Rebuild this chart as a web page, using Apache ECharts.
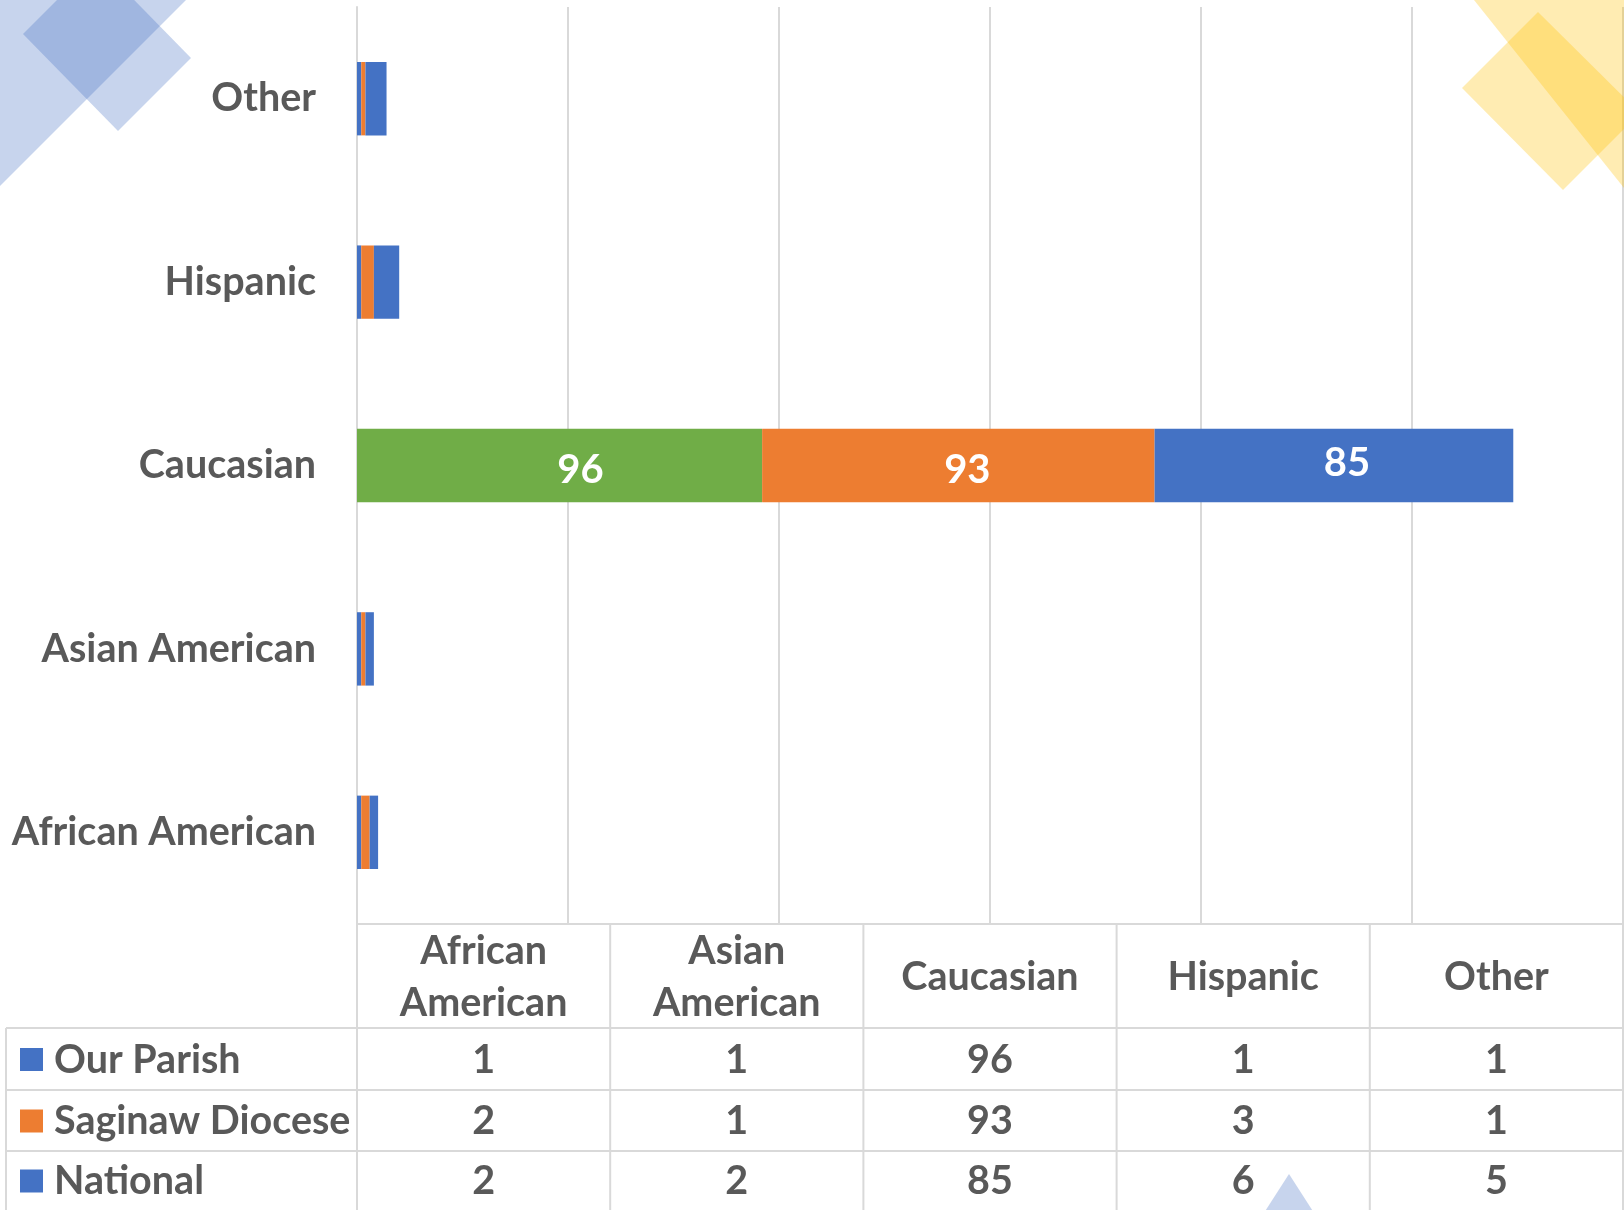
<!DOCTYPE html>
<html>
<head>
<meta charset="utf-8">
<script src="https://cdn.jsdelivr.net/npm/echarts@6/dist/echarts.min.js"></script>
<style>
html,body{margin:0;padding:0;background:#fff;}
#main{width:1624px;height:1210px;}
</style>
</head>
<body>
<div id="main"></div>
<script>
// ---- data ----
const categories = ['African American', 'Asian American', 'Caucasian', 'Hispanic', 'Other'];
const seriesNames = ['Our Parish', 'Saginaw Diocese', 'National'];
const ourParish = [1, 1, 96, 1, 1];
const saginawDiocese = [2, 1, 93, 3, 1];
const national = [2, 2, 85, 6, 5];
const axisMin = 0, axisMax = 300, axisInterval = 50;
const labelledCategory = 'Caucasian';

// ---- styles ----
const FONT = 'Lato';
const TEXT = '#595959';
const LINE = '#D9D9D9';
const seriesColors = ['#4472C4', '#ED7D31', '#4472C4'];
const highlightColor = '#70AD47';
const labelOffsets = [[21, 5], [9, 5], [13, -2]];
const FS = 39.5;

const W = 1624, H = 1210;
const gridL = 357, gridT = 7, gridR = 1, gridB = 286;
const plotB = H - gridB;           // 924
const plotW = W - gridL - gridR;
const colW = plotW / categories.length;
const rowLines = [plotB, 1028, 1090, 1151, H];

const seriesData = [ourParish, saginawDiocese, national];

function buildSeries() {
  return seriesNames.map((name, si) => ({
    name: name,
    type: 'bar',
    stack: 'total',
    barWidth: '40%',
    itemStyle: { color: seriesColors[si] },
    label: { show: false },
    data: seriesData[si].map((v, ci) => {
      const d = { value: v };
      if (categories[ci] === labelledCategory) {
        d.label = {
          show: true, position: 'inside', color: '#fff',
          fontFamily: FONT, fontWeight: 'bold', fontSize: 40,
          offset: labelOffsets[si]
        };
        if (si === 0) d.itemStyle = { color: highlightColor };
      }
      return d;
    })
  }));
}

function txt(text, x, y, opts) {
  return Object.assign({
    type: 'text', z: 50,
    style: {
      text: text, x: x, y: y,
      fill: TEXT, font: 'bold ' + FS + 'px ' + FONT,
      align: 'center', verticalAlign: 'middle',
      textAlign: 'center', textVerticalAlign: 'middle',
      lineHeight: 52
    }
  }, opts || {});
}
function line(x1, y1, x2, y2) {
  return { type: 'line', z: 40, shape: { x1, y1, x2, y2 }, style: { stroke: LINE, lineWidth: 2 } };
}
function poly(points, color) {
  return { type: 'polygon', z: 100, silent: true, shape: { points }, style: { fill: color } };
}

function buildTable() {
  const els = [];
  els.push(line(gridL, rowLines[0], W, rowLines[0]));
  for (let i = 1; i < rowLines.length - 1; i++) els.push(line(6, rowLines[i], W, rowLines[i]));
  els.push(line(6, rowLines[1], 6, H));
  for (let c = 0; c <= categories.length; c++) {
    const x = Math.min(gridL + c * colW, W - 1);
    els.push(line(x, plotB, x, H));
  }
  categories.forEach((cat, c) => {
    els.push(txt(cat.split(' ').join('\n'), gridL + (c + 0.5) * colW, (rowLines[0] + rowLines[1]) / 2 + 1));
  });
  seriesNames.forEach((name, si) => {
    const yc = (rowLines[si + 1] + rowLines[si + 2]) / 2 + 1;
    els.push({ type: 'rect', z: 50, shape: { x: 20, y: yc - 12, width: 23, height: 23 }, style: { fill: seriesColors[si] } });
    const t = txt(name, 54, yc, {});
    t.style.align = 'left';
    t.style.textAlign = 'left';
    els.push(t);
    seriesData[si].forEach((v, c) => {
      els.push(txt(String(v), gridL + (c + 0.5) * colW, yc));
    });
  });
  return els;
}

function buildDecor() {
  const blue = 'rgba(68,114,196,0.30)';
  const yellow = 'rgba(255,192,0,0.30)';
  return [
    poly([[0, 0], [186, 0], [0, 186]], blue),
    poly([[23, 34], [96, -39], [191, 58], [118, 131]], blue),
    poly([[1474, 0], [1700, 0], [1700, 283], [1624, 188]], yellow),
    poly([[1462, 88], [1538, 12], [1640, 113], [1563, 190]], yellow),
    poly([[1289, 1174], [1316, 1216], [1262, 1216]], blue)
  ];
}

const chart = echarts.init(document.getElementById('main'), null, { renderer: 'canvas', width: W, height: H });
chart.setOption({
  animation: false,
  backgroundColor: '#fff',
  grid: { left: gridL, top: gridT, right: gridR, bottom: gridB, containLabel: false },
  xAxis: {
    type: 'value', min: axisMin, max: axisMax, interval: axisInterval,
    axisLabel: { show: false }, axisTick: { show: false },
    axisLine: { show: true, lineStyle: { color: LINE, width: 2 } },
    splitLine: { show: true, lineStyle: { color: LINE, width: 2 } }
  },
  yAxis: {
    type: 'category', data: categories,
    axisTick: { show: false },
    axisLine: { show: true, lineStyle: { color: LINE, width: 2 } },
    axisLabel: { color: TEXT, fontFamily: FONT, fontWeight: 'bold', fontSize: FS, margin: 41 }
  },
  series: buildSeries(),
  graphic: { elements: buildTable().concat(buildDecor()) }
});
</script>
</body>
</html>
